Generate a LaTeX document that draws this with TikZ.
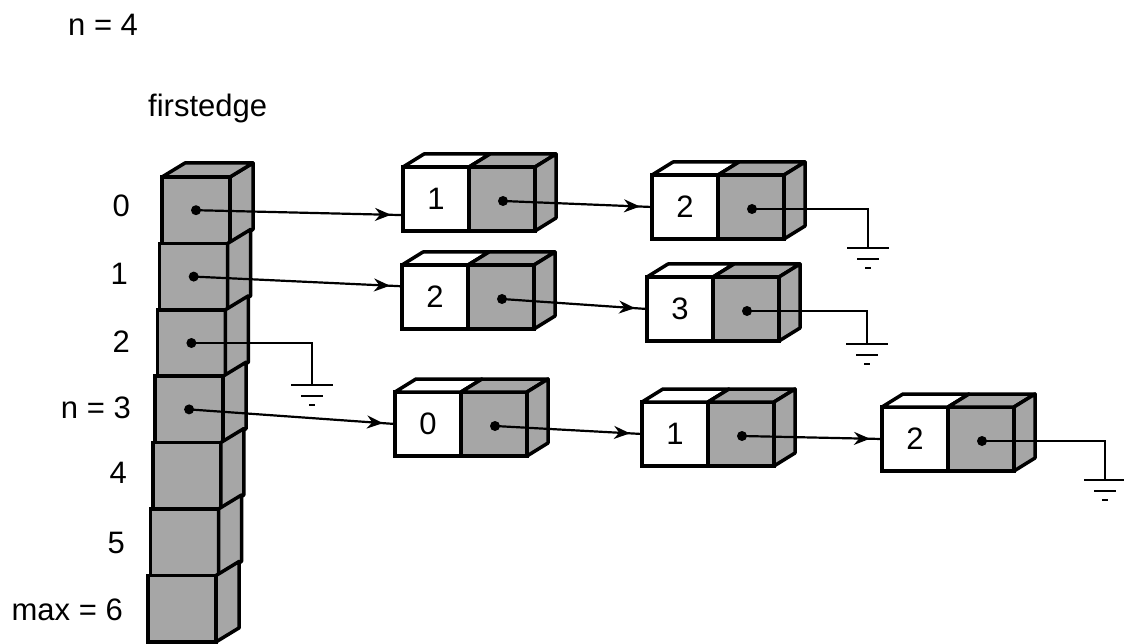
\documentclass[tikz,border=0pt]{standalone}
\usepackage{fontspec}
\setmainfont{Liberation Sans}
\usetikzlibrary{calc,arrows.meta,decorations.markings}
\definecolor{cellgrey}{gray}{0.65}
\newcommand\mkrecord[4]{%
  \node[wcell, anchor=north west] (#1a) at (#2,#3) {#4};
  \node[gcell, anchor=north west] (#1b) at (#1a.north east) {};
  \draw[face, fill=white] (#1a.north west) -- ++(21,-13) -- ($(#1a.north east)+(21,-13)$) -- (#1a.north east) -- cycle;
  \draw[face, fill=cellgrey] (#1b.north west) -- ++(21,-13) -- ($(#1b.north east)+(21,-13)$) -- (#1b.north east) -- cycle;
  \draw[face, fill=cellgrey] (#1b.north east) -- ++(21,-13) -- ($(#1b.south east)+(21,-13)$) -- (#1b.south east) -- cycle;
  \node[dotn] (#1d) at ($(#1b.center)+(1,2)$) {};
}
\begin{document}
\begin{tikzpicture}[x=1pt,y=-1pt,
  cellbase/.style={draw, line width=3.5pt, rectangle, inner sep=0pt, outer sep=0pt,
    minimum width=66pt, minimum height=64pt, font=\fontsize{31}{31}\selectfont},
  wcell/.style={cellbase, fill=white},
  gcell/.style={cellbase, fill=cellgrey},
  colcell/.style={cellbase, fill=cellgrey, minimum width=68pt, minimum height=66.4pt},
  face/.style={draw, line width=3.5pt, line join=round},
  dotn/.style={circle, fill=black, inner sep=0pt, minimum size=10pt},
  conn/.style={draw, line width=2.2pt},
  arrowed/.style={postaction={decorate}, decoration={markings,
    mark=at position -12pt with {\arrow{Stealth[length=16pt,width=13pt]}}}},
  lbl/.style={font=\fontsize{31}{31}\selectfont, inner sep=0pt, anchor=base east},
  txt/.style={font=\fontsize{31}{31}\selectfont, inner sep=0pt, anchor=base west},
  gndsym/.pic={
    \draw[line width=2.5pt] (-21,0) -- (21,0);
    \draw[line width=2.5pt] (-11,11) -- (11,11);
    \draw[line width=2.5pt] (-3,20) -- (3,20);
  }
]
\useasboundingbox (0,0) rectangle (1124,644);

% titles
\node[txt] (ntop) at (68,36) {n = 4};
\node[txt] (fe) at (148,117) {firstedge};

% column array
\foreach \i in {0,...,6} {
  \node[colcell, anchor=north west] (col\i) at ({162-2.3*\i},{177+66.4*\i}) {};
  \draw[face, fill=cellgrey] (col\i.north east) -- ++(23,-14) -- ($(col\i.south east)+(23,-14)$) -- (col\i.south east) -- cycle;
}
\draw[face, fill=cellgrey] (col0.north west) -- ++(23,-14) -- ($(col0.north east)+(23,-14)$) -- (col0.north east) -- cycle;
\foreach \i in {0,...,3} {
  \node[dotn] (cd\i) at (col\i.center) {};
}

% labels
\node[lbl] (l0) at (130,217) {0};
\node[lbl] (l1) at (128,284) {1};
\node[lbl] (l2) at (130,352) {2};
\node[lbl] (l3) at (131,418) {n = 3};
\node[lbl] (l4) at (127,483) {4};
\node[lbl] (l5) at (125,553) {5};
\node[lbl] (l6) at (123,620) {max = 6};

% records
\mkrecord{A0}{403}{167}{1}
\mkrecord{B0}{652}{175}{2}
\mkrecord{A1}{402}{265}{2}
\mkrecord{B1}{647}{277}{3}
\mkrecord{A3}{395}{392}{0}
\mkrecord{B3}{642}{402}{1}
\mkrecord{C3}{882}{407}{2}

% ground points
\coordinate (g0) at (868,248);
\coordinate (g1) at (867,344);
\coordinate (g2) at (312,385);
\coordinate (gc) at (1105,480);

% connectors
\draw[conn,arrowed] (cd0.center) -- (A0a.206);
\draw[conn,arrowed] (cd1.center) -- (A1a.162);
\draw[conn] (cd2.center) -| (g2);
\draw[conn,arrowed] (cd3.center) -- (A3a.west);
\draw[conn,arrowed] (A0d.center) -- (B0a.west);
\draw[conn] (B0d.center) -| (g0);
\draw[conn,arrowed] (A1d.center) -- (B1a.west);
\draw[conn] (B1d.center) -| (g1);
\draw[conn,arrowed] (A3d.center) -- (B3a.west);
\draw[conn,arrowed] (B3d.center) -- (C3a.west);
\draw[conn] (C3d.center) -| (gc);

\pic at (g0) {gndsym};
\pic at (g1) {gndsym};
\pic at (g2) {gndsym};
\pic at (gc) {gndsym};
\end{tikzpicture}
\end{document}
